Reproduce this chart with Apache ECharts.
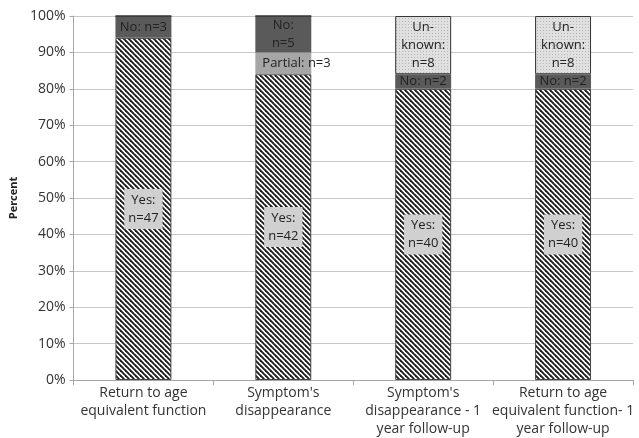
<!DOCTYPE html>
<html><head><meta charset="utf-8">
<script src="https://cdn.jsdelivr.net/npm/echarts@6/dist/echarts.min.js"></script>
<style>html,body{margin:0;padding:0;background:#fff}#c{width:639px;height:438px}</style>
</head><body><div id="c"></div>
<script>
const categories = ["Return to age\nequivalent function", "Symptom's\ndisappearance", "Symptom's\ndisappearance - 1\nyear follow-up", "Return to age\nequivalent function- 1\nyear follow-up"];
const total = 50;
const yesN = [47, 42, 40, 40];
const partialN = [0, 3, 0, 0];
const noN = [3, 5, 2, 2];
const unknownN = [0, 0, 8, 8];
const yesLabels = ["Yes:\nn=47", "Yes:\nn=42", "Yes:\nn=40", "Yes:\nn=40"];
const partialLabels = ["", "Partial: n=3", "", ""];
const noLabels = ["No: n=3", "No:\nn=5", "No: n=2", "No: n=2"];
const unknownLabels = ["", "", "Un-\nknown:\nn=8", "Un-\nknown:\nn=8"];

function pct(arr){ return arr.map(v => v / total * 100); }

function hatch(){
  const s = 5;
  const c = document.createElement('canvas'); c.width = s; c.height = s;
  const g = c.getContext('2d');
  g.fillStyle = '#fff'; g.fillRect(0,0,s,s);
  g.strokeStyle = '#1e1e1e'; g.lineWidth = 1.9;
  [[-1,-1,s+1,s+1],[s-1,-1,s+1,1],[-1,s-1,1,s+1]].forEach(l => {
    g.beginPath(); g.moveTo(l[0],l[1]); g.lineTo(l[2],l[3]); g.stroke();
  });
  return c;
}
function dots(){
  const c = document.createElement('canvas'); c.width = 3; c.height = 3;
  const g = c.getContext('2d');
  g.fillStyle = '#e0e0e0'; g.fillRect(0,0,3,3);
  g.fillStyle = '#b5b5b5'; g.fillRect(0,0,1,1);
  return c;
}
const font = "'Open Sans', 'Liberation Sans', sans-serif";
const chart = echarts.init(document.getElementById('c'), null, {renderer:'canvas'});
function lab(texts, extra){
  return Object.assign({
    show: true, position: 'inside', color: '#222', fontSize: 13, fontFamily: font, lineHeight: 18,
    formatter: p => texts[p.dataIndex]
  }, extra || {});
}
chart.setOption({
  animation: false,
  grid: {left: 68, right: 6, top: 16, bottom: 56},
  xAxis: {
    type: 'category', data: categories,
    axisLine: {lineStyle: {color: '#a6a6a6'}},
    axisTick: {show: true, length: 5, lineStyle: {color: '#a6a6a6'}},
    axisLabel: {color: '#333', fontSize: 14, fontFamily: font, lineHeight: 18, margin: 4, interval: 0}
  },
  yAxis: {
    type: 'value', min: 0, max: 100, interval: 10,
    name: 'Percent', nameLocation: 'middle', nameGap: 50,
    nameTextStyle: {fontWeight: 'bold', fontSize: 11, color: '#222', fontFamily: font},
    axisLabel: {formatter: '{value}%', color: '#333', fontSize: 14, fontFamily: font, margin: 8},
    axisLine: {show: true, lineStyle: {color: '#a6a6a6'}},
    axisTick: {show: true, length: 4, lineStyle: {color: '#a6a6a6'}},
    splitLine: {lineStyle: {color: '#c8c8c8'}}
  },
  series: [
    {name: 'Yes', type: 'bar', stack: 's', barWidth: '40%', data: pct(yesN),
     itemStyle: {color: {image: hatch(), repeat: 'repeat'}, borderColor: '#444', borderWidth: 1},
     label: lab(yesLabels, {backgroundColor: '#d0d0d0', padding: [3, 4, 1, 4]})},
    {name: 'Partial', type: 'bar', stack: 's', data: pct(partialN),
     itemStyle: {color: '#a6a6a6'},
     label: lab(partialLabels, {position: 'insideLeft', offset: [2, 0]})},
    {name: 'No', type: 'bar', stack: 's', data: pct(noN),
     itemStyle: {color: '#5a5a5a'},
     label: lab(noLabels)},
    {name: 'Unknown', type: 'bar', stack: 's', data: pct(unknownN),
     itemStyle: {color: {image: dots(), repeat: 'repeat'}, borderColor: '#333', borderWidth: 1},
     label: lab(unknownLabels)}
  ]
});
</script></body></html>
